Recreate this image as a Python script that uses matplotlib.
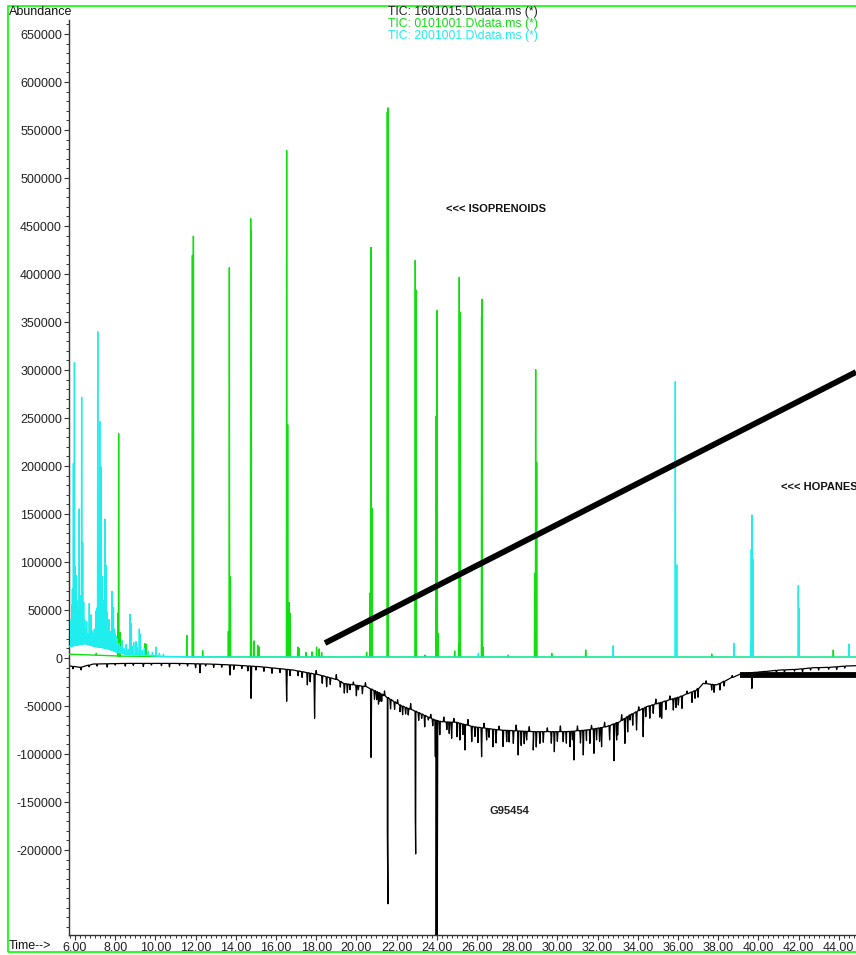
import numpy as np
import matplotlib
matplotlib.use('Agg')
import matplotlib.pyplot as plt
from matplotlib.ticker import MultipleLocator, FixedLocator, FuncFormatter
from matplotlib.patches import Rectangle

plt.rcParams['font.family'] = ['Liberation Sans', 'DejaVu Sans']

# --- TIC 0101001 (green) ---
green_base_t = [5.70, 8.3, 12.0, 44.86]
green_base_v = [4000, 2000, 1200, 1000]
green_pk_t = [7.06, 8.14, 8.17, 8.24, 9.48, 9.55, 11.56, 11.84, 11.89, 12.35,
              13.63, 13.68, 13.73, 14.74, 14.77, 14.91, 15.09, 15.15,
              16.53, 16.58, 16.66, 16.70, 17.08, 17.14, 17.49, 17.79,
              18.02, 18.15, 18.27, 20.51, 20.68, 20.73, 20.78, 21.54, 21.57,
              22.93, 22.98, 23.41, 23.97, 24.02, 24.07, 24.89, 25.09, 25.12,
              25.17, 26.23, 26.26, 26.31, 27.56, 28.87, 28.92, 28.97, 29.72,
              31.41, 37.68, 43.73]
green_pk_v = [5000, 46600, 233700, 26500, 15000, 14000, 23500, 419300, 439400, 7600,
              27700, 406500, 84500, 457600, 445100, 17800, 13300, 11400,
              528400, 243200, 57600, 46600, 11400, 10200, 5700, 6400,
              11400, 9500, 5700, 6000, 67700, 427700, 155700, 568500, 573100,
              414200, 383300, 3000, 252100, 362100, 25700, 7300, 14900, 396500,
              360200, 355500, 373700, 11000, 3000, 88200, 300400, 203900, 4900,
              8300, 4200, 8300]

# --- TIC 2001001 (cyan) ---
cyan_base_t = [5.70, 6.5, 7.0, 7.6, 8.1, 8.6, 9.5, 10.5, 14.0, 44.86]
cyan_base_v = [12000, 15000, 12000, 10000, 6000, 3500, 3000, 1500, 1000, 800]
cyan_pk_t = [5.80, 5.84, 5.87, 5.92, 5.97, 6.00, 6.05, 6.09, 6.13, 6.16,
             6.21, 6.26, 6.29, 6.33, 6.38, 6.43, 6.48, 6.53, 6.58, 6.63,
             6.71, 6.76, 6.80, 6.86, 6.91, 6.96, 7.03, 7.08, 7.13, 7.18,
             7.23, 7.29, 7.35, 7.40, 7.44, 7.49, 7.54, 7.59, 7.64, 7.69,
             7.74, 7.79, 7.84, 7.91, 7.96, 8.00, 8.04, 8.09, 8.20, 8.28,
             8.35, 8.45, 8.55, 8.65, 8.74, 8.79, 8.85, 8.92, 9.03, 9.10,
             9.20, 9.25, 9.35, 9.45, 9.65, 9.85, 10.03, 10.2, 10.4, 26.07,
             32.78, 35.87, 35.94, 38.79, 39.62, 39.65, 39.68, 39.73, 41.99, 42.03,
             44.52]
cyan_pk_v = [40000, 55000, 72000, 202700, 307600, 95000, 86000, 60000, 35000, 49000,
             155300, 65000, 42000, 271600, 120000, 58000, 40000, 30000, 38000, 25000,
             56800, 32000, 45000, 28000, 24600, 30000, 49000, 52000, 339800, 110000,
             246200, 198900, 85000, 60000, 38000, 144700, 96600, 48000, 32000, 40000,
             22700, 28000, 69300, 53000, 30000, 25000, 22700, 20000, 15000, 12000,
             18000, 10000, 14000, 9000, 45500, 36000, 12000, 16000, 17000, 11000,
             30300, 24600, 8000, 10000, 7000, 6000, 11400, 5000, 4000, 5000,
             12800, 287800, 96900, 15300, 17000, 113200, 149000, 102800, 75300, 51700,
             14600]

# --- TIC 1601015 (black, inverted) ---
black_base_t = [5.75, 6.25, 6.91, 8.57, 11.06, 12.72, 13.88, 15.20, 16.86, 18.19,
                19.10, 19.35, 20.51, 21.34, 22.17, 23.00, 23.91, 24.24, 24.99,
                25.82, 27.14, 28.80, 30.46, 31.46, 32.45, 33.11, 33.61, 34.44,
                35.27, 36.10, 36.93, 37.26, 37.93, 38.59, 39.17, 40.24, 41.07,
                41.91, 42.73, 43.56, 44.39, 44.86]
black_base_v = [-8300, -9700, -6250, -5600, -5600, -6250, -7300, -9000, -12500, -17700,
                -22900, -26400, -29900, -38500, -49000, -55900, -64600, -66300, -67000,
                -71500, -75000, -76700, -76700, -75000, -71500, -66300, -59400, -50700,
                -45500, -40300, -33300, -26400, -28000, -21200, -16000, -14200, -12500,
                -11800, -10100, -9700, -8300, -8000]
black_dip_t = [12.22, 13.71, 14.76, 16.53, 17.56, 17.92, 18.52, 19.40, 19.68, 20.10,
               20.73, 21.01, 21.17, 21.26, 21.54, 21.57, 22.17, 22.58, 22.93, 22.95,
               23.25, 23.58, 23.93, 23.97, 24.02, 24.74, 25.15, 25.40, 25.74, 26.23,
               26.48, 26.80, 27.48, 27.81, 28.05, 28.47, 28.80, 29.13, 29.85, 30.29,
               30.63, 30.83, 31.29, 31.62, 31.82, 32.20, 32.82, 32.95, 33.36, 33.61,
               33.94, 34.27, 34.77, 35.19, 35.77, 36.02, 36.85, 37.68, 38.09, 39.68]
black_dip_v = [-15300, -17700, -42000, -45000, -28000, -62800, -29900, -36500, -33000, -33000,
               -103500, -43400, -45000, -45100, -182600, -256000, -55900, -59400, -165300, -204000,
               -62800, -64600, -102800, -295000, -295000, -83600, -85400, -95800, -87100, -102800,
               -85400, -92400, -87100, -88900, -101000, -85400, -95800, -88900, -97600, -87100,
               -92400, -106250, -101000, -88900, -99300, -92400, -107000, -85400, -88900, -64600,
               -75000, -82000, -57600, -62800, -54200, -49000, -42000, -33300, -33300, -31600]
# small ragged flicker of the black trace, offset from its baseline
black_noise_t = [5.9, 6.3, 6.7, 7.1, 7.6, 8.0, 8.5, 8.9, 9.4, 9.8,
                 10.3, 10.7, 11.2, 11.6, 12.0, 12.5, 12.9, 13.3, 13.9, 14.3,
                 14.6, 15.0, 15.4, 15.8, 16.2, 16.7, 17.1,
                 17.3, 17.7, 18.0, 18.3, 18.7, 19.0, 19.2, 19.55, 19.85, 20.0,
                 20.3, 20.45, 20.9, 21.1, 21.4, 21.7, 21.9, 22.05, 22.3, 22.45,
                 22.7, 23.1, 23.4, 23.7, 23.8, 24.15, 24.35, 24.5, 24.62, 24.85,
                 25.0, 25.3, 25.55, 25.9, 26.05, 26.35, 26.6, 26.95, 27.1, 27.3,
                 27.6, 27.95, 28.2, 28.35, 28.6, 28.95, 29.3, 29.5, 29.7, 30.0,
                 30.15, 30.45, 30.75, 31.0, 31.15, 31.45, 31.7, 31.95, 32.1, 32.35,
                 32.6, 33.0, 33.2, 33.5, 33.75, 34.05, 34.4, 34.6, 34.9, 35.1,
                 35.4, 35.6, 35.9, 36.2, 36.45, 36.7, 37.0, 37.4, 37.8, 38.3,
                 38.7, 39.3, 39.9, 40.4, 40.9, 41.3, 41.8, 42.2, 42.6, 43.0,
                 43.5, 43.9, 44.3]
black_noise_d = [-2500, -3000, -1800, -2200, -3500, -1500, -2800, -2000, -3200, -1700,
                 -2400, -3600, -1900, -2600, -4200, -2100, -3300, -2800, -4500, -3100,
                 -5200, -3800, -4400, -5600, -4000, -6200, -5000,
                 -6000, -9000, 4000, -8000, -7000, 5000, -6000, -9000, 3000, -11000,
                 -8000, 4000, -9000, -12000, 5000, -10000, -8000, 4000, -9000, -7000,
                 6000, -8000, -12000, 4000, -7000, -14000, 5000, -8000, -12000, 4000,
                 -15000, -11000, 6000, -10000, -16000, 5000, -9000, -14000, 4000, -17000,
                 -12000, 6000, -15000, -13000, 5000, -16000, -11000, 4000, -12000, -10000,
                 6000, -12000, -9000, 5000, -13000, -11000, 4000, -12000, -14000, 5000,
                 -15000, -13000, 6000, -16000, -12000, 4000, -10000, -13000, 5000, -15000,
                 -9000, 4000, -10000, -13000, 3000, -11000, -9000, 3000, -8000, -5000,
                 2000, -2500, -3500, -2000, -3000, -2500, -1800, -3200, -2200, -2600,
                 -1900, -2800, -2000]

# thick marker lines
diag_t = [18.44, 44.86]
diag_v = [15600, 297900]
band_t = [39.08, 44.86]
band_v = [-17700, -17700]

ytick_vals = list(range(-200000, 650001, 50000))
xtick_vals = list(range(6, 45, 2))


def build_trace(bt, bv, pt, pv, dw=0.012):
    bt = np.asarray(bt, float)
    bv = np.asarray(bv, float)
    pt = np.asarray(pt, float)
    pv = np.asarray(pv, float)
    foot = np.interp(pt, bt, bv)
    xs = np.concatenate([bt, pt - dw, pt, pt + dw])
    ys = np.concatenate([bv, foot, pv, foot])
    order = np.argsort(xs, kind='stable')
    return xs[order], ys[order]


# noise flicker sits on the black baseline
noise_v = np.interp(black_noise_t, black_base_t, black_base_v) + np.asarray(black_noise_d)
blk_t = list(black_dip_t) + list(black_noise_t)
blk_v = list(black_dip_v) + list(noise_v)

W, H = 856, 955
fig = plt.figure(figsize=(W / 100, H / 100), dpi=100)
ax = fig.add_axes([69 / W, 20 / H, 787 / W, 915 / H])

bx, by = build_trace(black_base_t, black_base_v, blk_t, blk_v, dw=0.03)
gx, gy = build_trace(green_base_t, green_base_v, green_pk_t, green_pk_v)
cx, cy = build_trace(cyan_base_t, cyan_base_v, cyan_pk_t, cyan_pk_v)

ax.plot(bx, by, color='black', lw=0.9, zorder=2)
ax.plot(gx, gy, color='#10e010', lw=1.0, zorder=3)
ax.plot(cx, cy, color='#20eeee', lw=1.0, zorder=4)

ax.plot(diag_t, diag_v, color='black', lw=4.2, solid_capstyle='butt', zorder=5)
ax.plot(band_t, band_v, color='black', lw=4.2, solid_capstyle='butt', zorder=5)

ax.set_xlim(5.70, 44.86)
ax.set_ylim(-288500, 664600)

for s in ['top', 'right']:
    ax.spines[s].set_visible(False)
for s in ['left', 'bottom']:
    ax.spines[s].set_color('#333333')
    ax.spines[s].set_linewidth(1.0)

ax.xaxis.set_major_locator(FixedLocator(xtick_vals))
ax.xaxis.set_minor_locator(MultipleLocator(0.25))
ax.xaxis.set_major_formatter(FuncFormatter(lambda v, p: '%.2f' % v))
ax.yaxis.set_major_locator(FixedLocator(ytick_vals))
ax.yaxis.set_minor_locator(MultipleLocator(10000))
ax.yaxis.set_major_formatter(FuncFormatter(lambda v, p: '%d' % v))
ax.tick_params(which='major', direction='out', length=3.5, width=0.8,
               color='#333333', labelsize=9, labelcolor='#222222', pad=1.5)
ax.tick_params(which='minor', direction='out', length=2, width=0.7, color='#333333')

# green frame round the plot window
fig.patches.append(Rectangle((8 / W, 3 / H), 1.0, 1 - 9 / H, transform=fig.transFigure,
                             fill=False, edgecolor='#00ff00', lw=1.2))


def ftext(x, y, s, **kw):
    fig.text(x / W, 1 - y / H, s, va='center', ha='left', **kw)


ftext(9, 12, 'Abundance', fontsize=9, color='#111111')
ftext(9, 946, 'Time-->', fontsize=9, color='#111111')
ftext(388, 12, r'TIC: 1601015.D\data.ms (*)', fontsize=8.8, color='#222222')
ftext(388, 24, r'TIC: 0101001.D\data.ms (*)', fontsize=8.8, color='#10e010')
ftext(388, 36, r'TIC: 2001001.D\data.ms (*)', fontsize=8.8, color='#20eeee')
ftext(446, 209, '<<< ISOPRENOIDS', fontsize=8, fontweight='bold', color='#111111')
ftext(781, 487, '<<< HOPANES', fontsize=8, fontweight='bold', color='#111111')
ftext(489, 811, 'G95454', fontsize=8, fontweight='bold', color='#222222')

fig.savefig('out.png', dpi=100, facecolor='white')
